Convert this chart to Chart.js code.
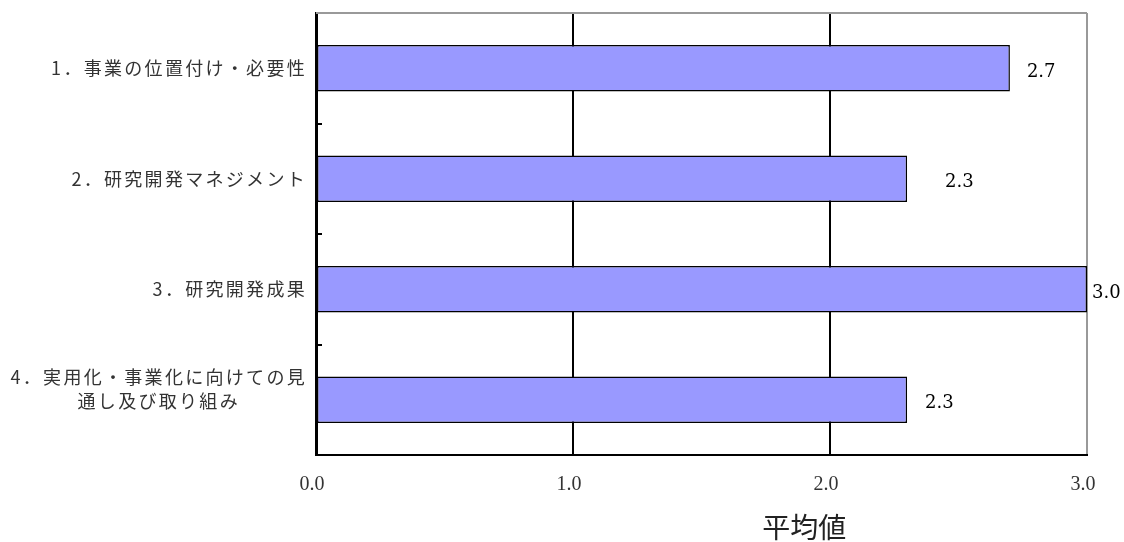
<!DOCTYPE html>
<html><head><meta charset="utf-8">
<script src="https://cdn.jsdelivr.net/npm/chart.js@4/dist/chart.umd.min.js"></script>
<style>html,body{margin:0;padding:0;background:#fff}#wrap{width:1124px;height:542px}</style>
</head><body><div id="wrap"><canvas id="c" width="1124" height="542"></canvas></div>
<script>
const categories = [
  ['1．事業の位置付け・必要性'],
  ['2．研究開発マネジメント'],
  ['3．研究開発成果'],
  ['4．実用化・事業化に向けての見', '通し及び取り組み']
];
const values = [2.7, 2.3, 3.0, 2.3];
const xTicks = [0, 1, 2, 3];
const axisTitle = '平均値';
const valueLabelGap = [17, 38, 5, 18];

const overlay = {
  id: 'overlay',
  afterDraw(chart) {
    const {ctx, chartArea: a, scales: {x, y}} = chart;
    ctx.save();
    // top border
    ctx.strokeStyle = '#999'; ctx.lineWidth = 2;
    ctx.beginPath(); ctx.moveTo(a.left, a.top); ctx.lineTo(a.right, a.top); ctx.stroke();
    // inner ticks at category boundaries
    ctx.strokeStyle = '#000'; ctx.lineWidth = 2;
    for (let i = 0; i < categories.length - 1; i++) {
      const yy = Math.round((y.getPixelForValue(i) + y.getPixelForValue(i + 1)) / 2);
      ctx.beginPath(); ctx.moveTo(a.left, yy); ctx.lineTo(a.left + 6, yy); ctx.stroke();
    }
    // category labels
    ctx.font = '18px "Noto Sans CJK JP"';
    ctx.letterSpacing = '2.3px';
    ctx.fillStyle = '#333';
    ctx.textAlign = 'center'; ctx.textBaseline = 'middle';
    categories.forEach((lines, i) => {
      const c = y.getPixelForValue(i);
      const w = Math.max(...lines.map(l => ctx.measureText(l).width));
      const cx = a.left - 9 - w / 2;
      lines.forEach((l, j) => {
        ctx.fillText(l, cx, c - (lines.length - 1) * 23 + j * 24);
      });
    });
    ctx.letterSpacing = '0px';
    // value labels
    const meta = chart.getDatasetMeta(0);
    ctx.font = '18px "DejaVu Serif"';
    ctx.fillStyle = '#000';
    ctx.textAlign = 'left';
    meta.data.forEach((bar, i) => {
      ctx.fillText(values[i].toFixed(1), bar.x + valueLabelGap[i], bar.y + 4);
    });
    // axis title
    ctx.font = '28px "Noto Sans CJK JP"';
    ctx.fillStyle = '#222';
    ctx.textAlign = 'center';
    ctx.fillText(axisTitle, x.getPixelForValue(1.9), 527);
    ctx.restore();
  }
};

new Chart(document.getElementById('c'), {
  type: 'bar',
  data: {
    labels: categories,
    datasets: [{
      data: values,
      backgroundColor: '#9999FF',
      borderColor: '#000',
      borderWidth: 1.5,
      borderSkipped: false,
      categoryPercentage: 0.42,
      barPercentage: 1.0
    }]
  },
  options: {
    indexAxis: 'y',
    responsive: false,
    animation: false,
    devicePixelRatio: 1,
    layout: {padding: {top: 13, right: 37, left: 0, bottom: 0}},
    plugins: {legend: {display: false}, tooltip: {enabled: false}},
    scales: {
      x: {
        min: 0, max: 3,
        afterBuildTicks: s => { s.ticks = xTicks.map(v => ({value: v})); },
        afterFit: s => { s.height = 87; },
        ticks: {
          callback: v => Number(v).toFixed(1),
          font: {family: 'Liberation Serif', size: 20},
          color: '#333',
          padding: 18,
          labelOffset: -4,
          maxRotation: 0
        },
        grid: {
          drawTicks: false,
          color: c => (c.tick && c.tick.value === 3) ? '#999' : '#000',
          lineWidth: 2
        },
        border: {display: true, color: '#000', width: 2}
      },
      y: {
        afterFit: s => { s.width = 316; },
        ticks: {display: false},
        grid: {display: false, drawTicks: false},
        border: {display: true, color: '#000', width: 3}
      }
    }
  },
  plugins: [overlay]
});
</script>
</body></html>
